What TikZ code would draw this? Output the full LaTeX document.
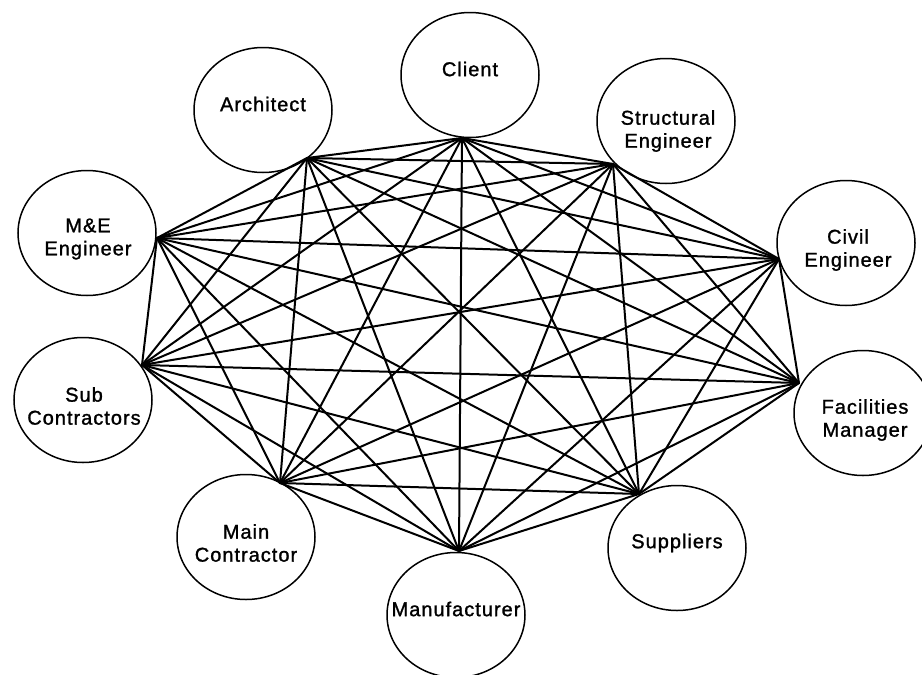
\documentclass[tikz,border=0pt]{standalone}
\usepackage{fontspec}
\setmainfont{Liberation Sans}[LetterSpace=5, FakeBold=1.3]
\usetikzlibrary{shapes.geometric}

\tikzset{
  party/.style={ellipse, draw=black, line width=1.5pt, inner sep=0pt,
    minimum width=138pt, minimum height=125pt},
  partylabel/.style={align=center, inner sep=0pt,
    font=\fontsize{20}{23}\selectfont},
  link/.style={draw=black, line width=2pt, line cap=round}
}

\begin{document}
\begin{tikzpicture}[x=1pt, y=-1pt]
  \useasboundingbox (0,0) rectangle (922,675);

  % the ten parties
  \node[party] (client)  at (470,75)  {};
  \node[party] (arch)    at (263,110) {};
  \node[party] (struct)  at (666,121) {};
  \node[party] (civil)   at (846,243) {};
  \node[party] (fm)      at (863,413) {};
  \node[party] (supp)    at (677,548) {};
  \node[party] (manu)    at (456,615) {};
  \node[party] (mainc)   at (246,537) {};
  \node[party] (subc)    at (83,400)  {};
  \node[party] (me)      at (87,233)  {};

  % labels
  \node[partylabel] (tclient) at (470,69)  {Client};
  \node[partylabel] (tarch)   at (263,104) {Architect};
  \node[partylabel] (tstruct) at (668,131) {Structural\\Engineer};
  \node[partylabel] (tcivil)  at (848,250) {Civil\\Engineer};
  \node[partylabel] (tfm)     at (865,420) {Facilities\\Manager};
  \node[partylabel] (tsupp)   at (677,543) {Suppliers};
  \node[partylabel] (tmanu)   at (456,609) {Manufacturer};
  \node[partylabel] (tmainc)  at (246,543) {Main\\Contractor};
  \node[partylabel] (tsubc)   at (84,406)  {Sub\\Contractors};
  \node[partylabel] (tme)     at (88,239)  {M\&E\\Engineer};

  % connection points on each party
  \coordinate (pclient) at (462,138);
  \coordinate (parch)   at (307,158);
  \coordinate (pstruct) at (613,164);
  \coordinate (pcivil)  at (779,259);
  \coordinate (pfm)     at (799,383);
  \coordinate (psupp)   at (639,494);
  \coordinate (pmanu)   at (459,551);
  \coordinate (pmainc)  at (280,483);
  \coordinate (psubc)   at (142,365);
  \coordinate (pme)     at (157,238);

  % every party is linked with every other one
  \foreach \a [count=\i] in {pclient,parch,pstruct,pcivil,pfm,psupp,pmanu,pmainc,psubc,pme}{
    \foreach \b [count=\j] in {pclient,parch,pstruct,pcivil,pfm,psupp,pmanu,pmainc,psubc,pme}{
      \ifnum\j>\i
        \draw[link] (\a) -- (\b);
      \fi
    }
  }
\end{tikzpicture}
\end{document}
